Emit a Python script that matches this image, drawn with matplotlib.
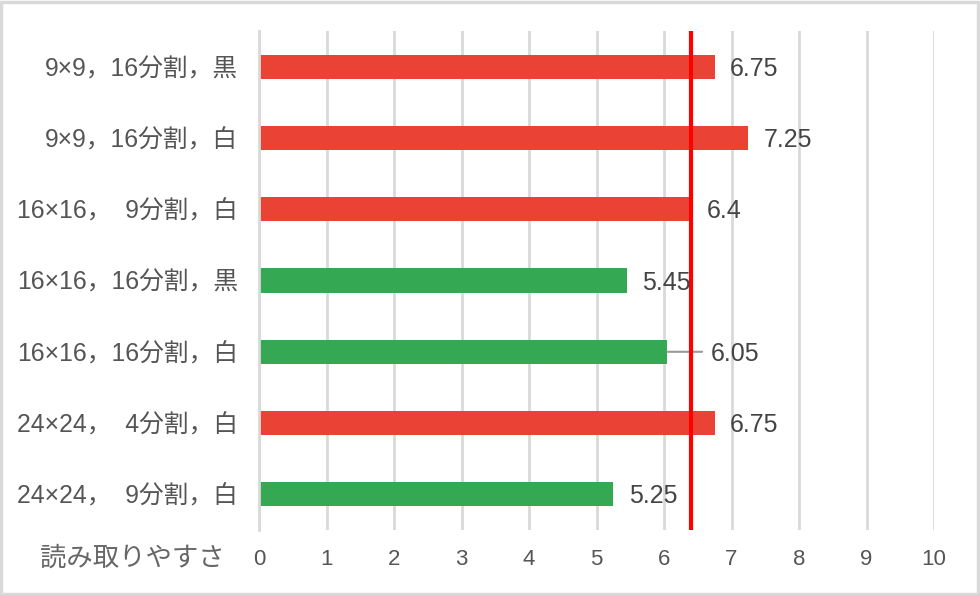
import matplotlib
matplotlib.use("Agg")
import matplotlib.pyplot as plt
from matplotlib.patches import Rectangle

categories = ["9×9，16分割，黒", "9×9，16分割，白", "16×16，  9分割，白",
              "16×16，16分割，黒", "16×16，16分割，白", "24×24，  4分割，白",
              "24×24，  9分割，白"]
values = [6.75, 7.25, 6.4, 5.45, 6.05, 6.75, 5.25]
bar_groups = ["red", "red", "red", "green", "green", "red", "green"]
reference_value = 6.4
x_ticks = [0, 1, 2, 3, 4, 5, 6, 7, 8, 9, 10]
axis_title = "読み取りやすさ"

palette = {"red": "#EA4335", "green": "#34A853"}
FONTS = ["Liberation Sans", "Noto Sans CJK JP", "DejaVu Sans"]
plt.rcParams["font.family"] = FONTS

fig = plt.figure(figsize=(9.8, 5.95), dpi=100)
ax = fig.add_axes([259/980, 1-530/595, (934-259)/980, (530-31)/595])

ypos = list(range(len(categories)))
ax.barh(ypos, values, height=0.34, color=[palette[g] for g in bar_groups], zorder=2)
ax.set_ylim(len(categories)-0.5, -0.5)
ax.set_xlim(0, 10)
ax.set_xticks(x_ticks)
ax.set_xticklabels([str(t) for t in x_ticks])
ax.set_yticks(ypos)
ax.set_yticklabels(categories)
ax.tick_params(axis="both", length=0, colors="#555555")
ax.tick_params(axis="x", labelsize=16, pad=14)
ax.tick_params(axis="y", labelsize=17.8, pad=15)
ax.grid(axis="x", color="#d9d9d9", lw=2, zorder=0)
for s in ["top", "right", "bottom"]:
    ax.spines[s].set_visible(False)
ax.spines["left"].set_color("#d9d9d9")
ax.spines["left"].set_linewidth(2)
ax.axvline(reference_value, color="#FF0000", lw=3, zorder=4)

for y, v in zip(ypos, values):
    if abs(v - reference_value) < 0.5 and v < reference_value - 0.1:
        # leader line from bar end toward the label
        ax.annotate("", xy=(v, y), xytext=(25, 0), textcoords="offset points",
                    zorder=3,
                    arrowprops=dict(arrowstyle="-", color="#999999", lw=1.5,
                                    shrinkA=0, shrinkB=0))
        dx = 31
    else:
        dx = 11
    ax.annotate(f"{v:g}", xy=(v, y), xytext=(dx, -1.5), textcoords="offset points",
                ha="left", va="center", fontsize=18, color="#444444", zorder=5)

fig.text(225/980, 1-558/595, axis_title, ha="right", va="center", fontsize=19,
         color="#666666")

fig.add_artist(Rectangle((0.001, 0.002), 0.997, 0.995, transform=fig.transFigure,
                         fill=False, edgecolor="#d9d9d9", lw=2.5))

fig.savefig("out.png", dpi=100)
